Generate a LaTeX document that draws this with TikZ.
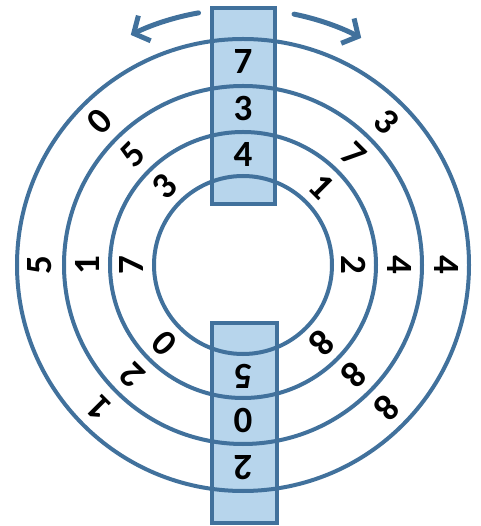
\documentclass[tikz,border=0pt]{standalone}
\usepackage{fontspec}
\setmainfont{Carlito}
\usetikzlibrary{arrows.meta}

\definecolor{ringblue}{RGB}{65,113,156}
\definecolor{winblue}{RGB}{183,213,236}

\tikzset{
  ring/.style={draw=ringblue, line width=4pt},
  window/.style={fill=winblue},
  windowedge/.style={draw=ringblue, line width=4pt},
  digit/.style={font=\fontsize{37}{37}\selectfont\bfseries, inner sep=0pt},
  turn/.style={draw=ringblue, line width=5pt, line cap=round,
    -{Straight Barb[length=12pt, width=28pt, line width=5pt]}}
}

\begin{document}
\begin{tikzpicture}[x=1pt, y=1pt]
  \useasboundingbox (-243,-261) rectangle (237,265);

  % the two windows (fill first)
  \fill[window] (-31,61) rectangle (32,257);
  \fill[window] (-31,-258) rectangle (34,-58);

  % the four rings
  \foreach \r/\name in {89/c1, 133/c2, 179/c3, 226/c4}
    \draw[ring] (0,0) circle[radius=\r];

  % window borders
  \draw[windowedge] (-31,61) rectangle (32,257);
  \draw[windowedge] (-31,-258) rectangle (34,-58);

  % digits, the top of each one points outward
  \foreach \d [count=\i] in {4,1,2,8,5,0,7,3}
    \node[digit, rotate={45*(1-\i)}] (in\i) at ({45*(3-\i)}:111) {\d};
  \foreach \d [count=\i] in {3,7,4,8,0,2,1,5}
    \node[digit, rotate={45*(1-\i)}] (mid\i) at ({45*(3-\i)}:156) {\d};
  \foreach \d [count=\i] in {7,3,4,8,2,1,5,0}
    \node[digit, rotate={45*(1-\i)}] (out\i) at ({45*(3-\i)}:203) {\d};

  % turning arrows
  \coordinate (lstart) at (100:256);
  \coordinate (rstart) at (78.5:256);
  \draw[turn] (lstart) arc[start angle=100, end angle=116, radius=256];
  \draw[turn] (rstart) arc[start angle=78.5, end angle=62.5, radius=256];
\end{tikzpicture}
\end{document}
